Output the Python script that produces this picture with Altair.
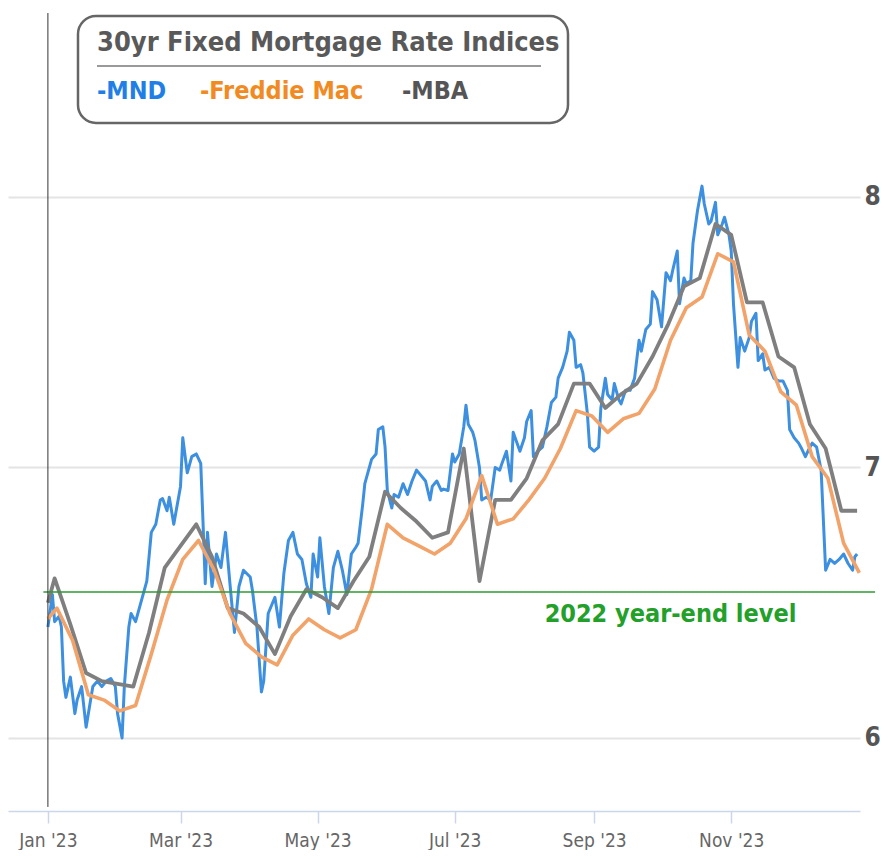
import altair as alt
import pandas as pd

FONT = "Liberation Sans Narrow, DejaVu Sans Condensed, sans-serif"

# ---- MND daily index (day offset from 2023-01-01, rate) ----
mnd_days = [
    0, 2, 3, 5, 6, 7, 8, 10, 12, 13,
    15, 17, 19, 20, 22, 24, 26, 28, 30, 31,
    33, 34, 36, 37, 39, 40, 42, 44, 46, 48,
    50, 51, 53, 54, 56, 59, 60, 62, 64, 66,
    68, 69, 70, 71, 73, 75, 77, 79, 81, 83,
    85, 87, 90, 91, 93, 95, 96, 98, 101, 103,
    105, 107, 109, 111, 113, 115, 117, 118, 120, 121,
    123, 125, 127, 129, 131, 133, 135, 137, 138, 140,
    141, 144, 146, 147, 149, 150, 151, 153, 154, 156,
    158, 160, 162, 164, 167, 168, 170, 171, 173, 175,
    176, 178, 180, 181, 183, 185, 186, 187, 189, 190,
    192, 193, 195, 197, 199, 201, 202, 204, 206, 207,
    210, 212, 213, 215, 216, 218, 220, 222, 224, 226,
    227, 229, 231, 232, 234, 235, 237, 238, 240, 241,
    243, 245, 246, 248, 249, 251, 252, 254, 255, 257,
    259, 261, 263, 264, 266, 268, 269, 271, 273, 275,
    277, 278, 280, 281, 283, 284, 286, 287, 289, 291,
    292, 294, 295, 297, 298, 300, 301, 303, 304, 305,
    307, 308, 310, 312, 313, 315, 316, 318, 319, 321,
    323, 325, 327, 329, 330, 332, 334, 335, 337, 339,
    340, 342, 344, 346, 348, 350, 352, 354, 356, 358,
    359, 360,
]
mnd_rates = [
    6.41, 6.53, 6.43, 6.45, 6.41, 6.21, 6.15, 6.225, 6.09, 6.14,
    6.19, 6.04, 6.14, 6.19, 6.21, 6.19, 6.21, 6.22, 6.19, 6.09,
    6.00, 6.19, 6.41, 6.46, 6.43, 6.46, 6.52, 6.58, 6.76, 6.79,
    6.88, 6.885, 6.84, 6.89, 6.79, 6.93, 7.11, 6.98, 7.04, 7.05,
    7.015, 6.80, 6.57, 6.76, 6.56, 6.68, 6.63, 6.76, 6.57, 6.39,
    6.56, 6.62, 6.595, 6.545, 6.41, 6.17, 6.21, 6.46, 6.52, 6.41,
    6.61, 6.73, 6.76, 6.68, 6.66, 6.57, 6.52, 6.68, 6.595, 6.74,
    6.56, 6.46, 6.63, 6.69, 6.62, 6.53, 6.68, 6.705, 6.72, 6.86,
    6.94, 7.03, 7.05, 7.14, 7.15, 7.075, 6.915, 6.85, 6.90, 6.89,
    6.94, 6.90, 6.95, 6.99, 6.96, 6.95, 6.88, 6.93, 6.95, 6.915,
    6.92, 6.915, 7.05, 7.02, 7.05, 7.15, 7.23, 7.16, 7.13, 7.10,
    7.00, 6.88, 6.89, 6.88, 7.00, 6.99, 7.015, 7.06, 6.95, 7.13,
    7.06, 7.11, 7.17, 7.21, 7.04, 7.06, 7.075, 7.15, 7.24, 7.26,
    7.33, 7.37, 7.43, 7.50, 7.47, 7.37, 7.38, 7.35, 7.20, 7.075,
    7.06, 7.075, 7.22, 7.33, 7.27, 7.25, 7.31, 7.25, 7.235, 7.285,
    7.285, 7.33, 7.47, 7.43, 7.51, 7.53, 7.65, 7.62, 7.52, 7.72,
    7.69, 7.73, 7.80, 7.605, 7.70, 7.68, 7.69, 7.83, 7.95, 8.04,
    7.975, 7.90, 7.91, 7.98, 7.86, 7.90, 7.925, 7.86, 7.80, 7.605,
    7.37, 7.48, 7.43, 7.48, 7.54, 7.57, 7.395, 7.42, 7.36, 7.37,
    7.33, 7.32, 7.32, 7.285, 7.14, 7.11, 7.09, 7.075, 7.04, 7.075,
    7.09, 7.075, 6.99, 6.62, 6.66, 6.645, 6.66, 6.68, 6.645, 6.62,
    6.67, 6.68,
]

# ---- Freddie Mac weekly (Thursdays), first point = Jan 1 ----
freddie_dates = ["2023-01-01"] + [d.strftime("%Y-%m-%d") for d in pd.date_range("2023-01-05", periods=52, freq="7D")]
freddie_rates = [
    6.44,
    6.48, 6.36, 6.16, 6.14,
    6.10, 6.12, 6.31, 6.51,
    6.66, 6.73, 6.62, 6.46, 6.35,
    6.30, 6.27, 6.38, 6.44,
    6.40, 6.37, 6.40, 6.55,
    6.79, 6.74, 6.71, 6.68, 6.72,
    6.81, 6.97, 6.79, 6.81,
    6.88, 6.96, 7.07, 7.21, 7.19,
    7.13, 7.18, 7.20, 7.29,
    7.47, 7.59, 7.63, 7.79,
    7.76, 7.49, 7.43, 7.28, 7.23,
    7.04, 6.96, 6.72, 6.61,
]

# ---- MBA weekly (Wednesdays), first point = Jan 1 ----
mba_dates = ["2023-01-01"] + [d.strftime("%Y-%m-%d") for d in pd.date_range("2023-01-04", periods=52, freq="7D")]
mba_rates = [
    6.50,
    6.59, 6.42, 6.24, 6.21,
    6.20, 6.19, 6.39, 6.63,
    6.71, 6.79, 6.67, 6.48, 6.46,
    6.41, 6.31, 6.45, 6.55,
    6.52, 6.48, 6.58, 6.67, 6.91,
    6.85, 6.80, 6.74, 6.76,
    7.07, 6.58, 6.88, 6.88,
    6.96, 7.10, 7.16, 7.31, 7.31,
    7.22, 7.27, 7.31, 7.41,
    7.53, 7.67, 7.70, 7.90,
    7.86, 7.61, 7.61, 7.41, 7.37,
    7.16, 7.07, 6.84, 6.84,
]

year_end_level = 6.54
year_end_label = "2022 year-end level"
y_ticks = [6, 7, 8]
x_tick_months = [1, 3, 5, 7, 9, 11]

start = pd.Timestamp("2023-01-01")
mnd_df = pd.DataFrame({
    "date": [(start + pd.Timedelta(days=d)).strftime("%Y-%m-%d") for d in mnd_days],
    "rate": mnd_rates,
})
fm_df = pd.DataFrame({"date": freddie_dates, "rate": freddie_rates})
mba_df = pd.DataFrame({"date": mba_dates, "rate": mba_rates})

x_scale = alt.Scale(domain=[
    alt.DateTime(year=2022, month=12, date=14, hours=6),
    alt.DateTime(year=2023, month=12, date=28, hours=7),
])
y_scale = alt.Scale(domain=[5.73, 8.68], nice=False, zero=False)

x_axis = alt.Axis(
    values=[alt.DateTime(year=2023, month=m, date=1) for m in x_tick_months],
    format="%b '%y", title=None, grid=False,
    labelFont=FONT, labelFontSize=19, labelColor="#666666",
    domainColor="#ccd6eb", domainWidth=1.5,
    tickColor="#ccd6eb", tickSize=12, tickWidth=1.5, labelPadding=8,
)
y_axis = alt.Axis(
    orient="right", values=y_ticks, format="d", title=None, domain=False, ticks=False,
    grid=True, gridColor="#e4e4e4", gridWidth=2,
    labelFont=FONT, labelFontSize=26, labelFontWeight="bold",
    labelColor="#555555", labelPadding=4,
)

def line(df, color, width):
    return alt.Chart(df).mark_line(color=color, strokeWidth=width, strokeJoin="round").encode(
        x=alt.X("date:T", scale=x_scale, axis=x_axis),
        y=alt.Y("rate:Q", scale=y_scale, axis=y_axis),
    )

mnd_line = line(mnd_df, "#3d8fe0", 3)
mba_line = line(mba_df, "#7f7f7f", 3.8)
fm_line = line(fm_df, "#f2a36a", 3.6)

ref_df = pd.DataFrame({"d1": ["2022-12-30"], "d2": ["2024-01-04"], "v": [year_end_level]})
green_rule = alt.Chart(ref_df).mark_rule(color="#2f9a34", strokeWidth=1.5).encode(
    x=alt.X("d1:T", scale=x_scale), x2="d2:T", y=alt.Y("v:Q", scale=y_scale)
)
lab_df = pd.DataFrame({"d": ["2023-10-05"], "v": [6.46], "t": [year_end_label]})
green_text = alt.Chart(lab_df).mark_text(
    font=FONT, fontSize=25, fontWeight="bold", color="#22a02a", align="center", baseline="middle"
).encode(x=alt.X("d:T", scale=x_scale), y=alt.Y("v:Q", scale=y_scale), text="t:N")

vline_df = pd.DataFrame({"d": ["2023-01-01"], "v1": [8.68], "v2": [5.745]})
vline = alt.Chart(vline_df).mark_rule(color="#333333", strokeWidth=1).encode(
    x=alt.X("d:T", scale=x_scale), y=alt.Y("v1:Q", scale=y_scale), y2="v2:Q"
)

one = alt.Data(values=[{"k": 1}])
box = alt.Chart(one).mark_rect(
    fill="white", stroke="#666666", strokeWidth=2.5, cornerRadius=18
).encode(x=alt.value(70), x2=alt.value(560), y=alt.value(3), y2=alt.value(110))
sep = alt.Chart(one).mark_rule(color="#777777", strokeWidth=1.5).encode(
    x=alt.value(89), x2=alt.value(533), y=alt.value(53)
)

def txt(s, x, y, color, size):
    return alt.Chart(one).mark_text(
        text=s, font=FONT, fontSize=size, fontWeight="bold", color=color,
        align="left", baseline="middle"
    ).encode(x=alt.value(x), y=alt.value(y))

title_t = txt("30yr Fixed Mortgage Rate Indices", 89, 30, "#595959", 27)
leg_mnd = txt("-MND", 89, 78, "#1f7fe6", 25)
leg_fm = txt("-Freddie Mac", 192, 78, "#f28a22", 25)
leg_mba = txt("-MBA", 394, 78, "#555555", 25)

chart = alt.layer(
    mnd_line, mba_line, fm_line, green_rule, green_text, vline,
    box, sep, title_t, leg_mnd, leg_fm, leg_mba,
).properties(
    width=852, height=798,
    padding={"left": 0, "top": 4, "right": 0, "bottom": 0},
    background="white",
).configure_view(stroke=None)

chart.save("out.html", embed_options={"renderer": "svg", "actions": False})
